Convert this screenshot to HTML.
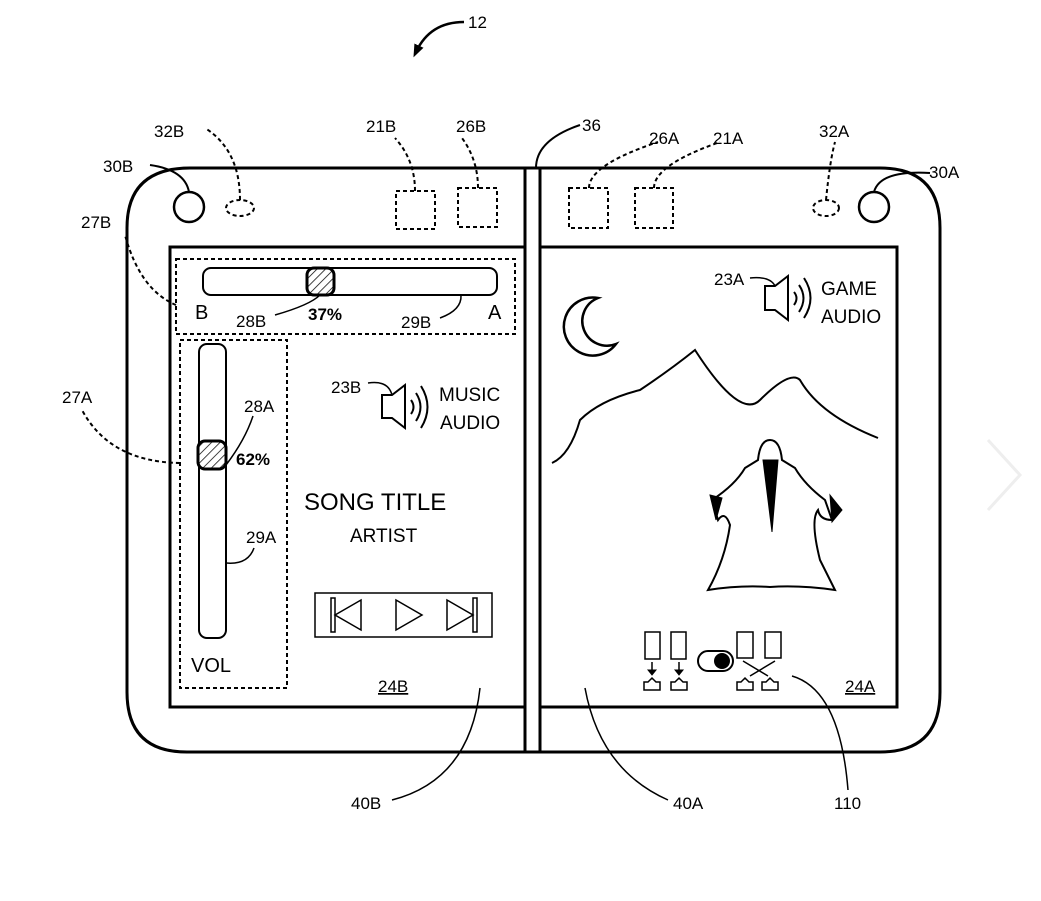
<!DOCTYPE html>
<html><head><style>body{margin:0;background:#fff}svg{display:block}text{font-family:"Liberation Sans",sans-serif;fill:#000}</style></head>
<body>
<svg width="1041" height="901" viewBox="0 0 1041 901" xmlns="http://www.w3.org/2000/svg" font-size="17">
<defs><pattern id="h" width="6" height="6" patternUnits="userSpaceOnUse" patternTransform="rotate(45)"><rect width="6" height="6" fill="#fff"/><line x1="0" y1="0" x2="0" y2="6" stroke="#000" stroke-width="1.5"/></pattern>
<marker id="ar" markerUnits="userSpaceOnUse" markerWidth="14" markerHeight="14" refX="7" refY="7" orient="auto"><path d="M0,2 L13,7 L0,12z" fill="#000"/></marker></defs>
<g fill="none" stroke="#000">
<path d="M190,168 H880 Q940,168 940,228 V692 Q940,752 880,752 H187 Q127,752 127,692 V228 Q127,168 190,168Z" stroke-width="3"/>
<line x1="525" y1="168" x2="525" y2="752" stroke-width="3"/>
<line x1="540" y1="168" x2="540" y2="752" stroke-width="3"/>
<rect x="170" y="247" width="355" height="460" stroke-width="3"/>
<rect x="540" y="247" width="357" height="460" stroke-width="3"/>
<circle cx="189" cy="207" r="15" stroke-width="2.5"/>
<circle cx="874" cy="207" r="15" stroke-width="2.5"/>
<g stroke-dasharray="4,3" stroke-width="2">
<ellipse cx="240" cy="208" rx="14" ry="8"/><ellipse cx="826" cy="208" rx="13" ry="8"/>
<rect x="396" y="191" width="39" height="38"/><rect x="458" y="188" width="39" height="39"/>
<rect x="569" y="188" width="39" height="40"/><rect x="635" y="188" width="38" height="40"/>
<rect x="176" y="259" width="339" height="75"/><rect x="180" y="340" width="107" height="348"/>
<path d="M240,200 Q240,150 205,128"/><path d="M415,191 Q415,160 395,138"/><path d="M478,188 Q478,160 462,138"/>
<path d="M589,188 Q589,165 658,142"/><path d="M654,188 Q654,165 720,142"/><path d="M826,200 Q830,160 835,142"/>
<path d="M176,305 Q140,290 125,235"/><path d="M180,463 Q110,462 82,410"/>
</g>
<path d="M536,168 Q536,140 580,125" stroke-width="2"/>
<path d="M189,192 Q185,170 150,165" stroke-width="2"/>
<path d="M874,192 Q880,170 930,173" stroke-width="2"/>
<path d="M464,22 Q430,22 416,52" stroke-width="2.5" marker-end="url(#ar)"/>
<rect x="203" y="268" width="294" height="27" rx="8" stroke-width="2"/>
<rect x="307" y="268" width="27" height="27" rx="7" fill="url(#h)" stroke-width="3"/>
<path d="M320,295 Q310,305 275,315" stroke-width="1.5"/><path d="M461,295 Q462,310 440,318" stroke-width="1.5"/>
<rect x="199" y="344" width="27" height="294" rx="8" stroke-width="2"/>
<rect x="198" y="441" width="28" height="28" rx="7" fill="url(#h)" stroke-width="3"/>
<path d="M226,465 Q245,440 253,416" stroke-width="1.5"/><path d="M226,563 Q248,565 254,548" stroke-width="1.5"/>
<path d="M382,395 H392 L405,385 V428 L392,418 H382Z" stroke-width="2"/>
<path d="M411,400 Q416,407 411,414 M416,393 Q425,407 416,421 M421,386 Q434,407 421,428" stroke-width="2"/>
<path d="M368,383 Q388,380 392,395" stroke-width="1.5"/>
<path d="M765,286 H775 L788,276 V320 L775,310 H765Z" stroke-width="2"/>
<path d="M794,292 Q799,298 794,305 M799,285 Q808,298 799,312 M804,278 Q817,298 804,318" stroke-width="2"/>
<path d="M750,278 Q770,276 775,286" stroke-width="1.5"/>
<rect x="315" y="593" width="177" height="44" stroke-width="1.5"/>
<rect x="331" y="598" width="4" height="34" stroke-width="1.5"/><path d="M335,615 L361,600 V630Z" stroke-width="1.5"/>
<path d="M396,600 L422,615 L396,630Z" stroke-width="1.5"/>
<path d="M447,600 L473,615 L447,630Z" stroke-width="1.5"/><rect x="473" y="598" width="4" height="34" stroke-width="1.5"/>
<path d="M598,298 A29,29 0 1 0 616,344 A24,24 0 1 1 598,298Z" stroke-width="2.5"/>
<path d="M552,463 Q570,455 580,420 Q600,400 640,390 Q670,370 695,350 Q740,420 760,400 Q790,370 800,380 Q820,415 878,438" stroke-width="2"/>
<path d="M758,460 Q760,440 770,440 Q780,440 782,460 L795,468 Q805,485 825,500 L832,520 Q820,520 818,510 Q810,520 820,560 Q830,580 835,590 Q800,585 770,587 Q740,585 708,590 Q725,560 730,525 Q725,510 718,520 L712,500 Q735,485 745,468Z" stroke-width="2"/>
<path d="M763,460 L778,460 L772,532Z" fill="#000"/>
<path d="M710,495 L722,498 L716,520Z M830,495 L842,510 L832,522Z" fill="#000"/>
<g stroke-width="1.5">
<rect x="645" y="632" width="15" height="27"/><rect x="671" y="632" width="15" height="27"/>
<rect x="737" y="632" width="16" height="26"/><rect x="765" y="632" width="16" height="26"/>
<path d="M652,662 V672 M679,662 V672 M743,661 L768,676 M775,661 L750,676"/>
<path d="M648,682 L652,678 L656,682 H660 V690 H644 V682Z M675,682 L679,678 L683,682 H687 V690 H671 V682Z M741,682 L745,678 L749,682 H753 V690 H737 V682Z M766,682 L770,678 L774,682 H778 V690 H762 V682Z"/>
<rect x="698" y="651" width="35" height="20" rx="10" stroke-width="2"/>
</g>
<circle cx="722" cy="661" r="8" fill="#000" stroke="none"/>
<path d="M648,670 l4,5 l4,-5z M675,670 l4,5 l4,-5z" fill="#000"/>
<path d="M480,688 Q470,780 392,800" stroke-width="1.5"/>
<path d="M585,688 Q600,770 668,800" stroke-width="1.5"/>
<path d="M792,676 Q840,690 848,790" stroke-width="1.5"/>
</g>
<text x="468" y="28">12</text>
<text x="154" y="137">32B</text><text x="103" y="172">30B</text><text x="81" y="228">27B</text><text x="62" y="403">27A</text>
<text x="366" y="132">21B</text><text x="456" y="132">26B</text><text x="582" y="131">36</text>
<text x="649" y="144">26A</text><text x="713" y="144">21A</text><text x="819" y="137">32A</text><text x="929" y="178">30A</text>
<text x="195" y="319" font-size="20">B</text><text x="488" y="319" font-size="20">A</text>
<text x="236" y="327">28B</text><text x="308" y="320" font-weight="bold">37%</text><text x="401" y="328">29B</text>
<text x="244" y="412">28A</text><text x="236" y="465" font-weight="bold">62%</text><text x="246" y="543">29A</text>
<text x="191" y="672" font-size="20">VOL</text>
<text x="331" y="393">23B</text><text x="439" y="401" font-size="19">MUSIC</text><text x="440" y="429" font-size="19">AUDIO</text>
<text x="304" y="510" font-size="24">SONG TITLE</text><text x="350" y="542" font-size="19">ARTIST</text>
<text x="378" y="692" text-decoration="underline">24B</text><text x="845" y="692" text-decoration="underline">24A</text>
<text x="714" y="285">23A</text><text x="821" y="295" font-size="19">GAME</text><text x="821" y="323" font-size="19">AUDIO</text>
<text x="351" y="809">40B</text><text x="673" y="809">40A</text><text x="834" y="809">110</text>
<path d="M988,440 L1020,475 L988,510" fill="none" stroke="#eee" stroke-width="3"/>
</svg>
</body></html>
